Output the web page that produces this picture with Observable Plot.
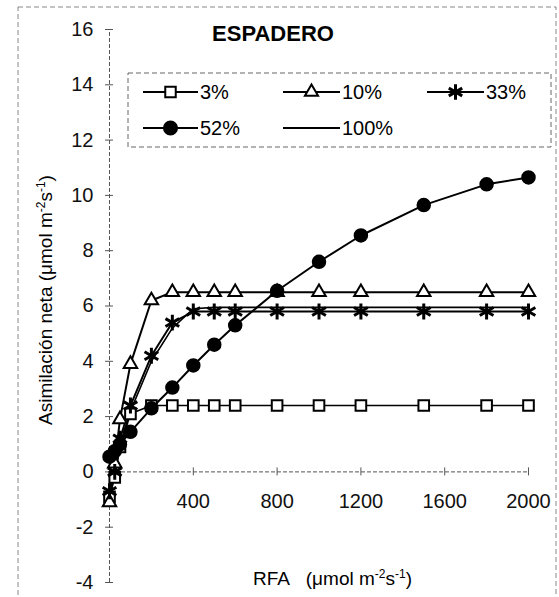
<!DOCTYPE html>
<html>
<head>
<meta charset="utf-8">
<script src="https://cdn.jsdelivr.net/npm/d3@7"></script>
<script src="https://cdn.jsdelivr.net/npm/@observablehq/plot@0.6"></script>
<style>
  html, body { margin: 0; padding: 0; background: #fff; }
  #chart { position: relative; width: 559px; height: 597px; }
  svg text { font-family: "Liberation Sans", Arial, sans-serif; }
</style>
</head>
<body>
<div id="chart"></div>
<script>
// ---- Data ----
const rfa = [0, 25, 50, 100, 200, 300, 400, 500, 600, 800, 1000, 1200, 1500, 1800, 2000];
const s3   = [-0.9, -0.2, 0.9, 2.1, 2.4, 2.4, 2.4, 2.4, 2.4, 2.4, 2.4, 2.4, 2.4, 2.4, 2.4];
const s10  = [-1.1, 0.3, 1.9, 3.9, 6.2, 6.5, 6.5, 6.5, 6.5, 6.5, 6.5, 6.5, 6.5, 6.5, 6.5];
const s33  = [-0.7, 0.0, 1.2, 2.4, 4.2, 5.4, 5.8, 5.8, 5.8, 5.8, 5.8, 5.8, 5.8, 5.8, 5.8];
const s52  = [0.55, 0.75, 1.0, 1.45, 2.3, 3.05, 3.85, 4.6, 5.3, 6.55, 7.6, 8.55, 9.65, 10.4, 10.65];
const s100 = [-0.8, -0.1, 1.0, 2.2, 4.0, 5.2, 5.9, 5.95, 5.95, 5.95, 5.95, 5.95, 5.95, 5.95, 5.95];
const seriesNames = ["3%", "10%", "33%", "52%", "100%"];
const xTicks = [400, 800, 1200, 1600, 2000];
const yTicks = [-4, -2, 0, 2, 4, 6, 8, 10, 12, 14, 16];
const title = "ESPADERO";

const toRows = (vals, name) => rfa.map((x, i) => ({x, y: vals[i], s: name}));
const d3p = toRows(s3, "3%"), d10 = toRows(s10, "10%"), d33 = toRows(s33, "33%"),
      d52 = toRows(s52, "52%"), d100 = toRows(s100, "100%");

const axisStyle = {stroke: "#555", strokeWidth: 1, strokeDasharray: "4,2"};
const lineStyle = {stroke: "#000", strokeWidth: 2};

const plot = Plot.plot({
  width: 559,
  height: 597,
  marginLeft: 109,
  marginRight: 31,
  marginTop: 29,
  marginBottom: 15,
  x: {domain: [0, 2000]},
  y: {domain: [-4, 16]},
  axis: null,
  style: {fontFamily: "Liberation Sans, Arial, sans-serif", fontSize: "19px", background: "#fff", color: "#000"},
  marks: [
    // axes
    Plot.ruleX([0], {y1: -4, y2: 16, ...axisStyle}),
    Plot.ruleY([0], {x1: 0, x2: 2000, ...axisStyle}),
    Plot.ruleY(yTicks, {y: d => d, x1: 0, x2: 0, insetLeft: -4, insetRight: -4, stroke: "#555"}),
    Plot.ruleX(xTicks, {x: d => d, y1: 0, y2: 0, insetTop: -4, insetBottom: -4, stroke: "#555"}),
    Plot.text(yTicks, {x: 0, y: d => d, text: d => String(d), dx: -16, textAnchor: "end", fontSize: 20, fill: "#111"}),
    Plot.text(xTicks, {x: d => d, y: 0, text: d => String(d), dy: 30, textAnchor: "middle", fontSize: 20, fill: "#111"}),
    // lines
    Plot.line(d100, {x: "x", y: "y", ...lineStyle, strokeWidth: 1.6}),
    Plot.line(d3p, {x: "x", y: "y", ...lineStyle, strokeWidth: 1.6}),
    Plot.line(d10, {x: "x", y: "y", ...lineStyle}),
    Plot.line(d33, {x: "x", y: "y", ...lineStyle}),
    Plot.line(d52, {x: "x", y: "y", ...lineStyle}),
    // markers
    Plot.dot(d3p, {x: "x", y: "y", symbol: "square", r: 6, fill: "#fff", stroke: "#000", strokeWidth: 2}),
    Plot.dot(d10, {x: "x", y: "y", symbol: "triangle", r: 5, fill: "#fff", stroke: "#000", strokeWidth: 2}),
    Plot.dot(d33, {x: "x", y: "y", symbol: "asterisk", r: 7.5, fill: "none", stroke: "#000", strokeWidth: 3}),
    Plot.dot(d52, {x: "x", y: "y", symbol: "circle", r: 6.5, fill: "#000", stroke: "#000"})
  ]
});

document.getElementById("chart").appendChild(plot);

// ---- Decorations: frame, title, axis titles, legend ----
const svg = d3.select(plot);
const ns = svg.append("g").attr("font-family", "Liberation Sans, Arial, sans-serif").attr("text-anchor", "start");

// outer dashed frame
ns.append("rect").attr("x", 18).attr("y", 7).attr("width", 538).attr("height", 600)
  .attr("fill", "none").attr("stroke", "#888").attr("stroke-width", 1).attr("stroke-dasharray", "5,3");

// title
ns.append("text").attr("x", 273).attr("y", 41).attr("text-anchor", "middle")
  .attr("font-size", 22).attr("font-weight", "bold").text(title);

// y axis title with superscripts
const yt = ns.append("text").attr("transform", "translate(52,300) rotate(-90)")
  .attr("text-anchor", "middle").attr("font-size", 19);
yt.append("tspan").text("Asimilación neta (μmol m");
yt.append("tspan").attr("dy", -7).attr("font-size", 12).text("-2");
yt.append("tspan").attr("dy", 7).text("s");
yt.append("tspan").attr("dy", -7).attr("font-size", 12).text("-1");
yt.append("tspan").attr("dy", 7).text(")");

// x axis title
const xt = ns.append("text").attr("x", 253).attr("y", 585).attr("font-size", 19)
  .attr("text-anchor", "start").style("white-space", "pre").attr("xml:space", "preserve");
xt.append("tspan").text("RFA\u00A0\u00A0 (μmol m");
xt.append("tspan").attr("dy", -7).attr("font-size", 12).text("-2");
xt.append("tspan").attr("dy", 7).text("s");
xt.append("tspan").attr("dy", -7).attr("font-size", 12).text("-1");
xt.append("tspan").attr("dy", 7).text(")");

// legend
const lg = ns.append("g");
lg.append("rect").attr("x", 128).attr("y", 73).attr("width", 423).attr("height", 74)
  .attr("fill", "#fff").attr("stroke", "#666").attr("stroke-dasharray", "5,3");
const entries = [
  {name: seriesNames[0], x0: 143, x1: 198, y: 92, sym: d3.symbolSquare, size: 110, fill: "#fff"},
  {name: seriesNames[1], x0: 283, x1: 340, y: 92, sym: d3.symbolTriangle, size: 75, fill: "#fff"},
  {name: seriesNames[2], x0: 427, x1: 484, y: 92, sym: d3.symbolAsterisk, size: 170, fill: "none"},
  {name: seriesNames[3], x0: 143, x1: 198, y: 128, sym: d3.symbolCircle, size: 135, fill: "#000"},
  {name: seriesNames[4], x0: 283, x1: 340, y: 128, sym: null}
];
for (const e of entries) {
  lg.append("line").attr("x1", e.x0).attr("x2", e.x1).attr("y1", e.y).attr("y2", e.y)
    .attr("stroke", "#000").attr("stroke-width", 2);
  if (e.sym) {
    lg.append("path").attr("d", d3.symbol(e.sym, e.size)())
      .attr("transform", `translate(${(e.x0 + e.x1) / 2},${e.y})`)
      .attr("fill", e.fill).attr("stroke", "#000").attr("stroke-width", e.sym === d3.symbolAsterisk ? 3 : 2);
  }
  lg.append("text").attr("x", e.x1 + 2).attr("y", e.y + 7).attr("font-size", 20)
    .attr("text-anchor", "start").text(e.name);
}
</script>
</body>
</html>
